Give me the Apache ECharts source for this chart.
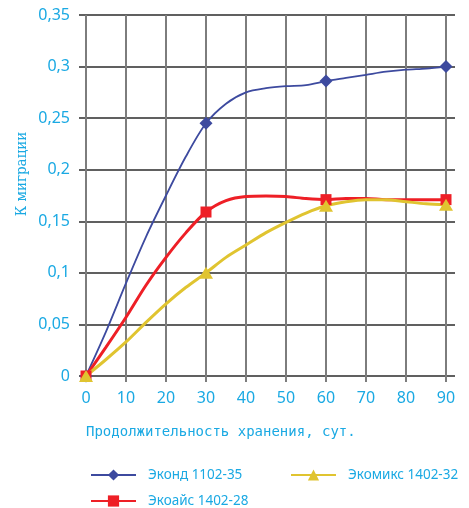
<!DOCTYPE html>
<html>
<head>
<meta charset="utf-8">
<script src="https://cdn.jsdelivr.net/npm/echarts@6/dist/echarts.min.js"></script>
<style>
  html, body { margin: 0; padding: 0; background: #fff; }
  #chart { width: 469px; height: 508px; }
</style>
</head>
<body>
<div id="chart"></div>
<script>
// сутки хранения
const days = [0, 5, 10, 15, 20, 25, 30, 35, 40, 45, 50, 55, 60, 65, 70, 75, 80, 85, 90];
const markerDays = [0, 30, 60, 90];
const xTicks = [0, 10, 20, 30, 40, 50, 60, 70, 80, 90];

// К миграции
const ekond = [0, 0.043, 0.09, 0.135, 0.175, 0.213, 0.245, 0.264, 0.275, 0.279, 0.281, 0.282, 0.286, 0.289, 0.292, 0.295, 0.297, 0.298, 0.3];
const ekoais = [0, 0.028, 0.057, 0.088, 0.115, 0.139, 0.159, 0.17, 0.174, 0.1745, 0.174, 0.172, 0.171, 0.172, 0.172, 0.171, 0.171, 0.171, 0.171];
const ekomiks = [0, 0.016, 0.033, 0.052, 0.07, 0.086, 0.1, 0.115, 0.127, 0.139, 0.149, 0.158, 0.165, 0.169, 0.171, 0.171, 0.169, 0.167, 0.166];

const names = ['Эконд 1102-35', 'Экоайс 1402-28', 'Экомикс 1402-32'];

const textBlue = '#1aa9e3';

// точки: маркер только на 0, 30, 60, 90 сутках
function toPoints(vals) {
  return days.map((d, i) => markerDays.includes(d)
    ? { value: [d, vals[i]] }
    : { value: [d, vals[i]], symbol: 'none' });
}

const chart = echarts.init(document.getElementById('chart'));

const legendBase = {
  padding: 0,
  itemWidth: 45,
  itemHeight: 14,
  textStyle: { color: textBlue, fontSize: 13.5, fontFamily: 'Noto Sans', padding: [0, 0, 0, 7] }
};

const option = {
  animation: false,
  grid: { left: 79, right: 14, top: 15, bottom: 132 },
  xAxis: {
    type: 'value',
    min: -1.75,
    max: 92.25,
    axisLine: { show: false },
    axisTick: { show: true, customValues: xTicks, length: 6, lineStyle: { color: '#7d7d7d', width: 2 } },
    axisLabel: { customValues: xTicks, color: textBlue, fontSize: 16, fontFamily: 'Noto Sans', margin: 14 },
    splitLine: { show: true, lineStyle: { color: '#7d7d7d', width: 2 } }
  },
  yAxis: {
    type: 'value',
    min: 0,
    max: 0.35,
    interval: 0.05,
    axisLine: { show: false },
    axisTick: { show: false },
    axisLabel: {
      color: textBlue,
      fontSize: 16,
      fontFamily: 'Noto Sans',
      margin: 9,
      formatter: v => String(+v.toFixed(2)).replace('.', ',')
    },
    splitLine: { show: true, lineStyle: { color: '#2b2b2b', width: 1.5 } }
  },
  graphic: [
    {
      type: 'text',
      x: 22, y: 174,
      rotation: Math.PI / 2,
      style: {
        text: 'К миграции',
        fill: textBlue,
        font: '15px "DejaVu Serif Condensed"',
        align: 'center',
        verticalAlign: 'middle'
      }
    },
    {
      type: 'text',
      x: 86, y: 432,
      style: {
        text: 'Продолжительность хранения, сут.',
        fill: textBlue,
        font: '14px "DejaVu Sans Mono"',
        align: 'left',
        verticalAlign: 'middle'
      }
    }
  ],
  legend: [
    Object.assign({ data: [names[0]], left: 90, top: 468 }, legendBase),
    Object.assign({ data: [names[1]], left: 90, top: 494 }, legendBase),
    Object.assign({ data: [names[2]], left: 290, top: 468 }, legendBase)
  ],
  series: [
    {
      name: names[0],
      type: 'line',
      smooth: 0.3,
      data: toPoints(ekond),
      symbol: 'diamond',
      symbolSize: 13,
      color: '#3d4a9f',
      lineStyle: { width: 1.8, color: '#3d4a9f' },
      itemStyle: { color: '#3d4a9f' }
    },
    {
      name: names[1],
      type: 'line',
      smooth: 0.3,
      data: toPoints(ekoais),
      symbol: 'rect',
      symbolSize: 11,
      color: '#ee1f26',
      lineStyle: { width: 3, color: '#ee1f26' },
      itemStyle: { color: '#ee1f26' }
    },
    {
      name: names[2],
      type: 'line',
      smooth: 0.3,
      data: toPoints(ekomiks),
      symbol: 'triangle',
      symbolSize: [14, 12],
      color: '#e0c430',
      lineStyle: { width: 3, color: '#e0c430' },
      itemStyle: { color: '#e0c430' }
    }
  ]
};

chart.setOption(option);
</script>
</body>
</html>
